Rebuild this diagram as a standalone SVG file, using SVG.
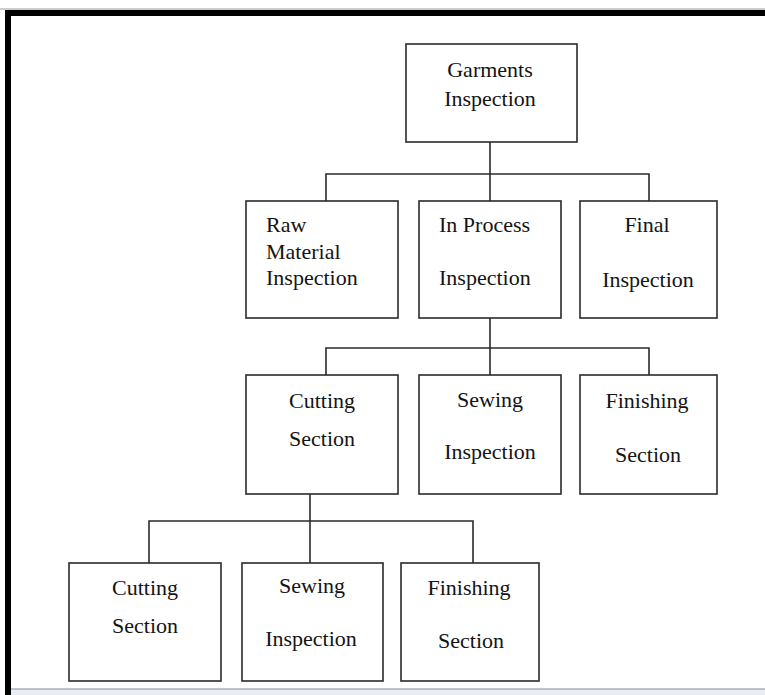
<svg xmlns="http://www.w3.org/2000/svg" width="765" height="695" viewBox="0 0 765 695">
<style>
.box{fill:#fff;stroke:#2a2a2a;stroke-width:1.6}
.ln{fill:none;stroke:#2a2a2a;stroke-width:1.6}
text{font-family:"Liberation Serif","Times New Roman",serif;font-size:22px;fill:#141414}
.c{text-anchor:middle}
</style>
<rect x="0" y="0" width="765" height="695" fill="#fff"/>
<line x1="0" y1="9" x2="765" y2="9" stroke="#9a9a9a" stroke-width="1"/>
<rect x="5" y="10" width="760" height="6" fill="#000"/>
<rect x="5" y="10" width="6" height="685" fill="#000"/>
<rect x="11" y="689" width="754" height="6" fill="#e9edf1"/>
<line x1="11" y1="689" x2="765" y2="689" stroke="#a9b0b8" stroke-width="1.5"/>
<g id="connectors">
<path class="ln" d="M490 142V174M326 201V174H649V201M490 174V201"/>
<path class="ln" d="M490 318V348M326 375V348H649V375M490 348V375"/>
<path class="ln" d="M310 494V521M149 563V521H473V563M310 521V563"/>
</g>
<g id="n-garments"><rect class="box" x="406" y="44" width="171" height="98"/><text class="c" x="490" y="77">Garments</text><text class="c" x="490" y="106">Inspection</text></g>
<g id="n-raw"><rect class="box" x="246" y="201" width="152" height="117"/><text x="266" y="232">Raw</text><text x="266" y="259">Material</text><text x="266" y="285">Inspection</text></g>
<g id="n-inprocess"><rect class="box" x="419" y="201" width="142" height="117"/><text x="439" y="232">In Process</text><text x="439" y="285">Inspection</text></g>
<g id="n-final"><rect class="box" x="580" y="201" width="137" height="117"/><text class="c" x="647" y="232">Final</text><text class="c" x="648" y="287">Inspection</text></g>
<g id="n-cutting1"><rect class="box" x="246" y="375" width="152" height="119"/><text class="c" x="322" y="408">Cutting</text><text class="c" x="322" y="446">Section</text></g>
<g id="n-sewing1"><rect class="box" x="419" y="375" width="142" height="119"/><text class="c" x="490" y="407">Sewing</text><text class="c" x="490" y="459">Inspection</text></g>
<g id="n-finishing1"><rect class="box" x="580" y="375" width="137" height="119"/><text class="c" x="647" y="408">Finishing</text><text class="c" x="648" y="462">Section</text></g>
<g id="n-cutting2"><rect class="box" x="69" y="563" width="152" height="118"/><text class="c" x="145" y="595">Cutting</text><text class="c" x="145" y="633">Section</text></g>
<g id="n-sewing2"><rect class="box" x="242" y="563" width="141" height="118"/><text class="c" x="312" y="593">Sewing</text><text class="c" x="311" y="646">Inspection</text></g>
<g id="n-finishing2"><rect class="box" x="401" y="563" width="138" height="118"/><text class="c" x="469" y="595">Finishing</text><text class="c" x="471" y="648">Section</text></g>
</svg>
